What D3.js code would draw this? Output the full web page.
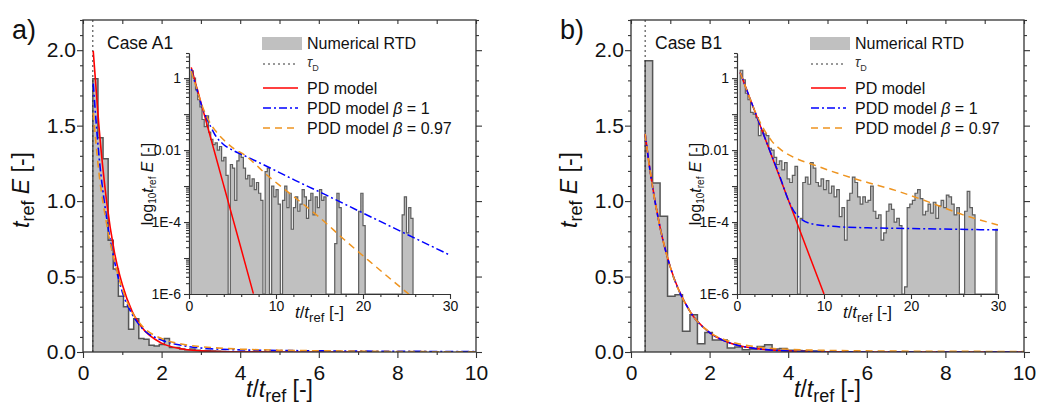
<!DOCTYPE html>
<html>
<head>
<meta charset="utf-8">
<script src="https://cdn.jsdelivr.net/npm/d3@7"></script>
<style>
  body { margin: 0; background: #fff; }
  svg { font-family: "Liberation Sans", Arial, sans-serif; }
</style>
</head>
<body>
<script>
const width = 1037;
const height = 410;
const FONT = "Liberation Sans, Arial, sans-serif";

// ---- tick values / labels
const mainXTicks = [0, 2, 4, 6, 8, 10];
const mainYTicks = [0, 0.5, 1, 1.5, 2];
const insetXTicks = [0, 10, 20, 30];
const insetYTicks = [1, 0.01, 1e-4, 1e-6];
const insetYTickLabels = ["1", "0.01", "1E-4", "1E-6"];
const panelLabels = ["a)", "b)"];
const caseLabels = ["Case A1", "Case B1"];

// ---- case A1
const tauA = 0.25;
const histStartA = 0.25, histWidthA = 0.13;
const histA = [1.81, 1.42, 1.28, 0.74, 0.55, 0.37, 0.30, 0.15, 0.22, 0.09, 0.085, 0.045, 0.04,
  0.05, 0.09, 0.03, 0.03, 0.02, 0.015, 0.02, 0.012, 0.008, 0.01, 0.006, 0.005, 0.004];
// inset histogram, log10 of t_ref E (null = empty bin)
const insetStartA = 0.25, insetWidthA = 0.25;
const insetLogA = [
  0.2, 0.0, -0.33, -0.6, -0.8, -1.15, -1.35, -1.05, -1.5, -1.7,
  -1.85, -1.8, -2.0, -1.9, -2.3, -2.2, -2.7, null, -2.4, -2.5,
  -3.4, -2.3, -2.1, -2.2, -2.5, -2.8, -2.7, -3.0, -2.8, -3.1,
  -2.9, -3.2, -3.4, null, -2.6, -2.5, null, -3.0, -3.3, -3.1,
  -3.5, null, -3.4, -3.0, -3.6, -3.2, -4.2, -3.6, -3.3, -3.7,
  -3.5, -3.1, -3.3, -3.9, -3.4, -3.2, -3.8, -3.3, -3.6, -3.1,
  -3.4, -3.3, null, null, null, null, -4.6, -3.2, -3.6, null,
  null, null, null, null, null, null, null, -3.7, -3.2, -4.1,
  null, null, null, null, null, null, null, null, null, null,
  null, null, null, null, null, null, null, -3.8, -3.3, -4.3, -3.6, -3.9];
// model curves, log10 of t_ref E
const pdTA = [0.26, 0.4, 0.6, 0.8, 1.0, 1.25, 1.5, 2, 2.5, 3, 4, 5, 6, 7.4];
const pdLogA = [0.30, 0.18, 0.0, -0.18, -0.35, -0.57, -0.79, -1.23, -1.67, -2.11, -2.99, -3.87, -4.75, -5.99];
const pdd1TA = [0.26, 0.4, 0.6, 0.8, 1.0, 1.25, 1.5, 2, 2.5, 3, 4, 5, 6.25, 9.1, 12.2, 14.9, 20, 25.2, 30];
const pdd1LogA = [0.25, 0.12, -0.05, -0.22, -0.4, -0.6, -0.8, -1.1, -1.35, -1.58, -1.85, -2.0, -2.14, -2.47, -2.84, -3.15, -3.75, -4.36, -4.92];
const pdd97TA = [0.26, 0.4, 0.6, 0.8, 1.0, 1.25, 1.5, 2, 2.5, 3, 4, 5, 6.4, 9.1, 12.6, 14.9, 17.9, 20.6, 23.3, 25.4];
const pdd97LogA = [0.2, 0.08, -0.07, -0.22, -0.38, -0.58, -0.76, -1.05, -1.28, -1.45, -1.72, -1.93, -2.14, -2.72, -3.4, -3.85, -4.5, -5.06, -5.61, -6.03];

// ---- case B1
const tauB = 0.36;
const histStartB = 0.36, histWidthB = 0.19;
const histB = [1.93, 1.12, 0.90, 0.37, 0.38, 0.137, 0.247, 0.055, 0.13, 0.08, 0.08, 0.026, 0.033,
  0.015, 0.02, 0.037, 0.048, 0.02, 0.024, 0.012, 0.01, 0.008, 0.006, 0.005];
const insetStartB = 0.36, insetWidthB = 0.3;
const insetLogB = [
  0.22, -0.05, -0.42, -0.6, -0.95, -1.0, -1.1, -1.6, -1.45, -1.55,
  -1.6, -1.95, -2.0, -2.2, -2.4, -2.3, -2.55, -2.35, -2.8, -2.9,
  -2.7, -2.45, null, -3.9, -2.9, -2.75, -2.95, -2.35, -2.5, -2.9,
  -3.0, -2.8, -3.1, -2.85, -3.2, -3.0, -3.3, -3.1, -3.85, -3.6,
  -4.5, -3.4, -3.2, -2.75, -2.9, -3.3, -3.5, -3.3, -3.45, -3.4,
  -3.0, -3.7, -3.9, -3.8, -4.5, -4.3, -3.7, -3.5, -3.65, -4.0,
  -3.9, -4.1, null, -5.8, -3.6, -3.5, -3.4, -3.2, -3.1, -3.35,
  -3.8, -3.7, -3.5, -3.75, -3.45, -3.9, -3.55, -3.4, -3.6, -3.25,
  -3.3, -3.5, -3.8, -3.6, null, null, -3.7, -3.15, -3.6, -3.8,
  null, null, null, null, null, null, null, null, -4.2];
const pdTB = [0.36, 0.5, 0.75, 1, 1.5, 2, 2.5, 3, 4, 5, 6, 8, 10];
const pdLogB = [0.16, 0.07, -0.09, -0.25, -0.57, -0.89, -1.21, -1.53, -2.17, -2.81, -3.45, -4.73, -6.0];
const pdd1TB = [0.36, 0.5, 0.75, 1, 1.5, 2, 2.5, 3, 4, 5, 5.8, 6.5, 7.2, 8.3, 11, 15, 20, 25, 30];
const pdd1LogB = [0.16, 0.07, -0.09, -0.25, -0.57, -0.89, -1.21, -1.53, -2.16, -2.78, -3.33, -3.68, -3.88, -4.03, -4.12, -4.16, -4.18, -4.2, -4.22];
const pdd97TB = [0.36, 0.5, 0.75, 1, 1.5, 2, 2.5, 3, 4, 5, 6.5, 8.7, 12, 15, 18.2, 22, 26, 30];
const pdd97LogB = [0.16, 0.07, -0.09, -0.25, -0.57, -0.88, -1.15, -1.38, -1.75, -1.98, -2.2, -2.4, -2.68, -2.9, -3.12, -3.44, -3.8, -4.08];

const zip = (ts, vs) => ts.map((t, i) => ({ t, v: vs[i] }));

const panels = [
  { id: "A", ox: 0, label: panelLabels[0], caseLabel: caseLabels[0], tau: tauA,
    hist: histA, histStart: histStartA, histWidth: histWidthA,
    inset: insetLogA, insetStart: insetStartA, insetWidth: insetWidthA,
    pd: zip(pdTA, pdLogA), pdd1: zip(pdd1TA, pdd1LogA), pdd97: zip(pdd97TA, pdd97LogA) },
  { id: "B", ox: 548, label: panelLabels[1], caseLabel: caseLabels[1], tau: tauB,
    hist: histB, histStart: histStartB, histWidth: histWidthB,
    inset: insetLogB, insetStart: insetStartB, insetWidth: insetWidthB,
    pd: zip(pdTB, pdLogB), pdd1: zip(pdd1TB, pdd1LogB), pdd97: zip(pdd97TB, pdd97LogB) }
];

const styles = {
  pd: { stroke: "#ff0000", dash: null },
  pdd1: { stroke: "#0000ff", dash: "8,3,2,3" },
  pdd97: { stroke: "#ee9420", dash: "7,5" }
};

const svg = d3.select("body").append("svg").attr("width", width).attr("height", height);
const defs = svg.append("defs");

// text with italic / subscript pieces
function rich(text, parts, subSize, shift) {
  let down = false;
  parts.forEach(p => {
    const ts = text.append("tspan").text(p.t);
    if (p.i) ts.attr("font-style", "italic");
    if (p.sub) {
      ts.attr("font-size", subSize);
      if (!down) ts.attr("dy", shift);
      down = true;
    } else if (down) {
      ts.attr("dy", -shift);
      down = false;
    }
  });
  return text;
}

function styleAxis(sel, size) {
  sel.attr("font-family", FONT).attr("font-size", size);
  sel.selectAll(".tick line").attr("stroke", "#333").attr("stroke-width", 1.1);
  sel.selectAll("text").attr("fill", "#111");
  sel.select(".domain").attr("stroke", "#333").attr("stroke-width", 1.1);
}

function drawPanel(p) {
  const ox = p.ox;
  const g = svg.append("g");
  const x = d3.scaleLinear().domain([0, 10]).range([ox + 83, ox + 476]);
  const y = d3.scaleLinear().domain([0, 2.2]).range([352, 20]);
  const xi = d3.scaleLinear().domain([0, 30]).range([ox + 189, ox + 450]);
  const yi = d3.scaleLog().domain([1e-6, 5]).range([294, 53]);

  defs.append("clipPath").attr("id", "main" + p.id).append("rect")
    .attr("x", x(0)).attr("y", y(2.2)).attr("width", x(10) - x(0)).attr("height", y(0) - y(2.2));
  defs.append("clipPath").attr("id", "inset" + p.id).append("rect")
    .attr("x", xi(0)).attr("y", yi(5)).attr("width", xi(30) - xi(0)).attr("height", yi(1e-6) - yi(5));

  // main histogram
  const mg = g.append("g").attr("clip-path", `url(#main${p.id})`);
  const hEnd = p.histStart + p.hist.length * p.histWidth;
  const hPts = p.hist.map((v, i) => ({ t: p.histStart + i * p.histWidth, v }));
  hPts.push({ t: hEnd, v: p.hist[p.hist.length - 1] });
  mg.append("path")
    .attr("d", d3.area().curve(d3.curveStepAfter).x(d => x(d.t)).y0(y(0)).y1(d => y(d.v))(hPts))
    .attr("fill", "#c0c0c0");
  mg.append("path")
    .attr("d", d3.line().curve(d3.curveStepAfter).x(d => x(d.t)).y(d => y(d.v))(
      [{ t: p.histStart, v: 0 }, ...hPts, { t: hEnd, v: 0 }]))
    .attr("fill", "none").attr("stroke", "#555").attr("stroke-width", 1.5);

  mg.append("line")
    .attr("x1", x(p.tau)).attr("x2", x(p.tau)).attr("y1", y(0)).attr("y2", y(2.2))
    .attr("stroke", "#333").attr("stroke-width", 1).attr("stroke-dasharray", "2,3");

  const mainLine = d3.line().x(d => x(d.t)).y(d => y(Math.pow(10, d.v))).curve(d3.curveMonotoneX);
  ["pd", "pdd1", "pdd97"].forEach(k => {
    mg.append("path").attr("d", mainLine(p[k]))
      .attr("fill", "none").attr("stroke", styles[k].stroke).attr("stroke-width", 1.6)
      .attr("stroke-dasharray", styles[k].dash);
  });

  // inset histogram (log scale)
  const ig = g.append("g").attr("clip-path", `url(#inset${p.id})`);
  const iEnd = p.insetStart + p.inset.length * p.insetWidth;
  const val = v => (v == null ? 1e-6 : Math.pow(10, v));
  const iPts = p.inset.map((v, i) => ({ t: p.insetStart + i * p.insetWidth, v: val(v) }));
  iPts.push({ t: iEnd, v: iPts[iPts.length - 1].v });
  ig.append("path")
    .attr("d", d3.area().curve(d3.curveStepAfter).x(d => xi(d.t)).y0(yi(1e-6)).y1(d => yi(d.v))(iPts))
    .attr("fill", "#c0c0c0");
  ig.append("path")
    .attr("d", d3.line().curve(d3.curveStepAfter).x(d => xi(d.t)).y(d => yi(d.v))(
      [{ t: p.insetStart, v: 1e-6 }, ...iPts, { t: iEnd, v: 1e-6 }]))
    .attr("fill", "none").attr("stroke", "#5e5e5e").attr("stroke-width", 1.2);

  const insetLine = d3.line().x(d => xi(d.t)).y(d => yi(Math.pow(10, d.v))).curve(d3.curveMonotoneX);
  ["pd", "pdd1", "pdd97"].forEach(k => {
    ig.append("path").attr("d", insetLine(p[k]))
      .attr("fill", "none").attr("stroke", styles[k].stroke).attr("stroke-width", 1.5)
      .attr("stroke-dasharray", styles[k].dash);
  });

  // inset axes
  const isDecade = d => Math.abs(Math.log10(d) - Math.round(Math.log10(d))) < 1e-6;
  g.append("g").attr("transform", `translate(0,${yi(1e-6)})`)
    .call(d3.axisBottom(xi).tickValues(d3.range(0, 31, 2).filter(d => d % 10)).tickSize(3).tickSizeOuter(0).tickFormat(""))
    .call(s => styleAxis(s, 14));
  g.append("g").attr("transform", `translate(0,${yi(1e-6)})`)
    .call(d3.axisBottom(xi).tickValues(insetXTicks).tickSize(5).tickSizeOuter(0).tickPadding(2).tickFormat(d3.format("d")))
    .call(s => styleAxis(s, 14));
  g.append("g").attr("transform", `translate(${xi(0)},0)`)
    .call(d3.axisLeft(yi).tickValues(yi.ticks().filter(d => !isDecade(d))).tickSize(3).tickSizeOuter(0).tickFormat(""))
    .call(s => styleAxis(s, 14));
  g.append("g").attr("transform", `translate(${xi(0)},0)`)
    .call(d3.axisLeft(yi).tickValues(d3.range(-6, 1).map(e => Math.pow(10, e))).tickSize(5).tickSizeOuter(0).tickPadding(3)
      .tickFormat(d => { const k = insetYTicks.findIndex(t => Math.abs(Math.log10(t) - Math.log10(d)) < 1e-6); return k >= 0 ? insetYTickLabels[k] : ""; }))
    .call(s => styleAxis(s, 14));

  rich(g.append("text").attr("x", (xi(0) + xi(30)) / 2).attr("y", 318)
    .attr("text-anchor", "middle").attr("font-size", 17).attr("fill", "#111"),
    [{ t: "t", i: true }, { t: "/" }, { t: "t", i: true }, { t: "ref", sub: true }, { t: "  [-]" }], 13, 4);
  rich(g.append("text").attr("transform", `translate(${ox + 153},184) rotate(-90)`)
    .attr("text-anchor", "middle").attr("font-size", 16).attr("fill", "#111"),
    [{ t: "log" }, { t: "10", sub: true }, { t: "t", i: true }, { t: "ref", sub: true }, { t: " E", i: true }, { t: "  [-]" }], 10, 3);

  // main axes
  const minorX = d3.range(1, 10, 2);
  const minorY = d3.range(1, 23).map(d => d / 10).filter(d => Math.abs(d * 2 - Math.round(d * 2)) > 1e-6);
  g.append("g").attr("transform", `translate(0,${y(0)})`)
    .call(d3.axisBottom(x).tickValues(minorX).tickSize(3).tickFormat("")).call(s => s.select(".domain").remove()).call(s => styleAxis(s, 20));
  g.append("g").attr("transform", `translate(0,${y(0)})`)
    .call(d3.axisBottom(x).tickValues(mainXTicks).tickSize(6).tickPadding(7).tickFormat(d3.format("d")))
    .call(s => s.select(".domain").remove()).call(s => styleAxis(s, 21));
  g.append("g").attr("transform", `translate(0,${y(2.2)})`)
    .call(d3.axisBottom(x).tickValues(d3.range(0, 11)).tickSize(4).tickFormat(""))
    .call(s => s.select(".domain").remove()).call(s => styleAxis(s, 20));
  g.append("g").attr("transform", `translate(${x(0)},0)`)
    .call(d3.axisLeft(y).tickValues(minorY).tickSize(3).tickFormat("")).call(s => s.select(".domain").remove()).call(s => styleAxis(s, 20));
  g.append("g").attr("transform", `translate(${x(0)},0)`)
    .call(d3.axisLeft(y).tickValues(mainYTicks).tickSize(6).tickPadding(1).tickFormat(d3.format(".1f")))
    .call(s => s.select(".domain").remove()).call(s => styleAxis(s, 21));
  g.append("g").attr("transform", `translate(${x(10)},0)`)
    .call(d3.axisRight(y).tickValues(minorY).tickSize(3).tickFormat("")).call(s => s.select(".domain").remove()).call(s => styleAxis(s, 20));
  g.append("g").attr("transform", `translate(${x(10)},0)`)
    .call(d3.axisRight(y).tickValues(mainYTicks).tickSize(6).tickFormat(""))
    .call(s => s.select(".domain").remove()).call(s => styleAxis(s, 20));

  g.append("rect").attr("x", x(0)).attr("y", y(2.2)).attr("width", x(10) - x(0)).attr("height", y(0) - y(2.2))
    .attr("fill", "none").attr("stroke", "#333").attr("stroke-width", 1.3);

  // titles
  rich(g.append("text").attr("x", (x(0) + x(10)) / 2).attr("y", 397)
    .attr("text-anchor", "middle").attr("font-size", 23).attr("fill", "#111"),
    [{ t: "t", i: true }, { t: "/" }, { t: "t", i: true }, { t: "ref", sub: true }, { t: "  [-]" }], 18, 5);
  rich(g.append("text").attr("transform", `translate(${ox + 29},190) rotate(-90)`)
    .attr("text-anchor", "middle").attr("font-size", 23).attr("fill", "#111"),
    [{ t: "t", i: true }, { t: "ref", sub: true }, { t: " E", i: true }, { t: "  [-]" }], 18, 5);

  g.append("text").attr("x", ox + 12).attr("y", 39).attr("font-size", 27).attr("fill", "#111").text(p.label);
  g.append("text").attr("x", ox + 107).attr("y", 49).attr("font-size", 17.5).attr("fill", "#111").text(p.caseLabel);

  // legend
  const lx = ox + 263, tx = ox + 307;
  g.append("rect").attr("x", lx - 1).attr("y", 37).attr("width", 40).attr("height", 13).attr("fill", "#c0c0c0");
  g.append("text").attr("x", tx).attr("y", 49).attr("font-size", 16).attr("fill", "#111").text("Numerical RTD");
  g.append("line").attr("x1", lx).attr("x2", lx + 35).attr("y1", 64).attr("y2", 64)
    .attr("stroke", "#333").attr("stroke-width", 1).attr("stroke-dasharray", "2,3");
  rich(g.append("text").attr("x", tx).attr("y", 67).attr("font-size", 14).attr("fill", "#333"),
    [{ t: "τ", i: true }, { t: "D", sub: true }], 9, 4);
  const rows = [
    { k: "pd", y: 88, parts: [{ t: "PD model" }] },
    { k: "pdd1", y: 108, parts: [{ t: "PDD model " }, { t: "β", i: true }, { t: " = 1" }] },
    { k: "pdd97", y: 128, parts: [{ t: "PDD model " }, { t: "β", i: true }, { t: " = 0.97" }] }
  ];
  rows.forEach(r => {
    g.append("line").attr("x1", lx).attr("x2", lx + 35).attr("y1", r.y).attr("y2", r.y)
      .attr("stroke", styles[r.k].stroke).attr("stroke-width", 1.6).attr("stroke-dasharray", styles[r.k].dash);
    rich(g.append("text").attr("x", tx).attr("y", r.y + 5.5).attr("font-size", 16).attr("fill", "#111"), r.parts, 11, 3);
  });
}

panels.forEach(drawPanel);
</script>
</body>
</html>
